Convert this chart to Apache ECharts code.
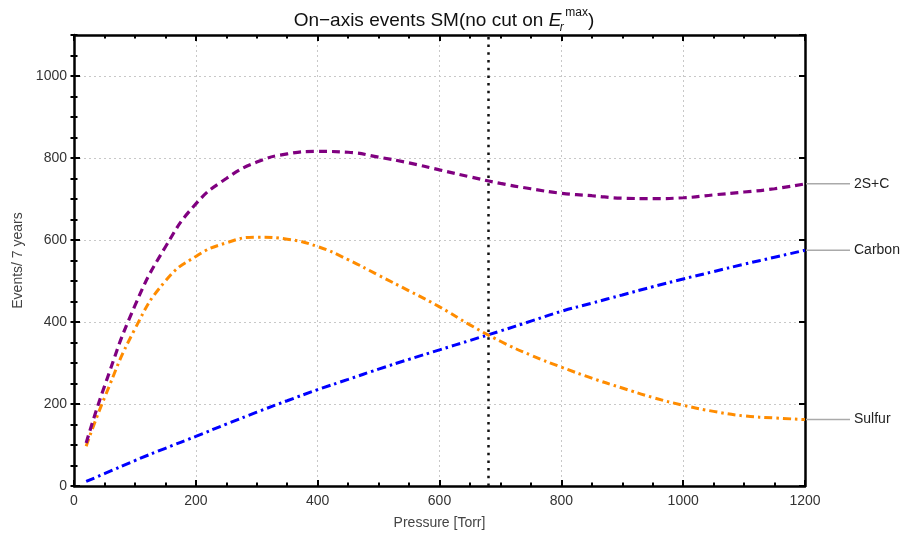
<!DOCTYPE html>
<html>
<head>
<meta charset="utf-8">
<script src="https://cdn.jsdelivr.net/npm/echarts@6/dist/echarts.min.js"></script>
<style>html,body{margin:0;padding:0;background:#fff}#c{width:906px;height:536px}</style>
</head>
<body>
<div id="c"></div>
<script>
const pressure = [20, 50, 100, 150, 200, 250, 300, 350, 400, 450, 500, 550, 600, 650, 700, 750, 800, 850, 900, 950, 1000, 1050, 1100, 1150, 1200];
const total2SC = [105, 243, 440, 583, 688, 750, 790, 810, 816, 814, 802, 788, 771, 754, 738, 725, 714, 708, 702, 701, 703, 710, 717, 725, 737];
const carbon = [11, 30, 62, 92, 121, 151, 180, 208, 235, 260, 285, 309, 332, 355, 378, 402, 426, 446, 466, 486, 505, 523, 541, 558, 575];
const sulfur = [97, 215, 383, 500, 560, 593, 607, 602, 584, 552, 514, 476, 437, 393, 353, 319, 290, 263, 239, 216, 197, 182, 171, 166, 162];
const cutPressure = 680;
const xTicks = [0, 200, 400, 600, 800, 1000, 1200];
const yTicks = [0, 200, 400, 600, 800, 1000];

const FONT = "'Liberation Sans', Arial, sans-serif";
const pairs = arr => pressure.map((p, i) => [p, arr[i]]);

function endLabel() {
  return {
    show: true,
    distance: 1,
    formatter: p => '{l|}{t|' + p.seriesName + '}',
    rich: {
      l: { width: 44, height: 1.5, backgroundColor: '#aaaaaa' },
      t: { fontFamily: FONT, fontSize: 14, color: '#222', padding: [0, 0, 0, 4] }
    }
  };
}

const chart = echarts.init(document.getElementById('c'), null, { renderer: 'canvas' });
const frameLine = { show: true, onZero: false, lineStyle: { color: '#000', width: 2.5 } };
chart.setOption({
  animation: false,
  title: {
    text: 'On\u2212axis events SM(no cut on {e|E}{r|r}{m|max})',
    left: 439, top: 2, textAlign: 'center',
    textStyle: {
      fontFamily: FONT, fontSize: 19, fontWeight: 'normal', color: '#111',
      rich: {
        e: { fontFamily: FONT, fontSize: 19, fontStyle: 'italic', color: '#111' },
        r: { fontFamily: FONT, fontSize: 12, fontStyle: 'italic', color: '#111', width: 1, verticalAlign: 'bottom', padding: [15, 0, 0, 0] },
        m: { fontFamily: FONT, fontSize: 12, color: '#111', verticalAlign: 'top', padding: [0, 0, 14, 3] }
      }
    }
  },
  grid: { left: 74, right: 101, top: 35, bottom: 50, containLabel: false },
  xAxis: [
    {
      type: 'value', min: 0, max: 1200, interval: 200, position: 'bottom',
      name: 'Pressure [Torr]', nameLocation: 'middle', nameGap: 30,
      nameTextStyle: { fontFamily: FONT, fontSize: 14, color: '#444' },
      axisLine: frameLine,
      axisTick: { show: true, inside: true, length: 6, lineStyle: { color: '#000', width: 2 } },
      minorTick: { show: true, splitNumber: 4, length: 3.5, lineStyle: { color: '#000', width: 2 } },
      axisLabel: { fontFamily: FONT, fontSize: 14, color: '#333', margin: 8, formatter: v => xTicks.includes(v) ? String(v) : '' },
      splitLine: { show: true, lineStyle: { color: '#c8c8c8', type: [2, 3], width: 1 } }
    },
    {
      type: 'value', min: 0, max: 1200, interval: 200, position: 'top',
      axisLine: frameLine,
      axisTick: { show: true, inside: true, length: 6, lineStyle: { color: '#000', width: 2 } },
      minorTick: { show: true, splitNumber: 4, length: 3.5, lineStyle: { color: '#000', width: 2 } },
      axisLabel: { show: false }, splitLine: { show: false }
    }
  ],
  yAxis: [
    {
      type: 'value', min: 0, max: 1100, interval: 200, position: 'left',
      name: 'Events/ 7 years', nameLocation: 'middle', nameGap: 46, nameRotate: 90,
      nameTextStyle: { fontFamily: FONT, fontSize: 14, color: '#444' },
      axisLine: frameLine,
      axisTick: { show: true, inside: true, length: 6, lineStyle: { color: '#000', width: 2 } },
      axisLabel: { fontFamily: FONT, fontSize: 14, color: '#333', margin: 7, showMaxLabel: false, formatter: v => yTicks.includes(v) ? String(v) : '' },
      splitLine: { show: true, lineStyle: { color: '#c8c8c8', type: [2, 3], width: 1 } }
    },
    {
      type: 'value', min: 0, max: 1100, interval: 50, position: 'left',
      axisLine: { show: false },
      axisTick: { show: true, inside: true, length: 3.5, lineStyle: { color: '#000', width: 2 } },
      axisLabel: { show: false }, splitLine: { show: false }
    },
    {
      type: 'value', min: 0, max: 1100, interval: 200, position: 'right',
      axisLine: frameLine,
      axisTick: { show: true, inside: true, length: 6, lineStyle: { color: '#000', width: 2 } },
      axisLabel: { show: false }, splitLine: { show: false }
    },
    {
      type: 'value', min: 0, max: 1100, interval: 50, position: 'right',
      axisLine: { show: false },
      axisTick: { show: true, inside: true, length: 3.5, lineStyle: { color: '#000', width: 2 } },
      axisLabel: { show: false }, splitLine: { show: false }
    }
  ],
  series: [
    {
      name: 'Carbon', type: 'line', data: pairs(carbon), smooth: 0.5, showSymbol: false,
      lineStyle: { color: '#0000ff', width: 3, type: [9, 4, 2.5, 4] },
      itemStyle: { color: '#0000ff' },
      endLabel: endLabel(),
      markLine: {
        silent: true, symbol: 'none', label: { show: false },
        lineStyle: { color: '#111', width: 2.5, type: [2.5, 5.2] },
        data: [{ xAxis: cutPressure }]
      }
    },
    {
      name: 'Sulfur', type: 'line', data: pairs(sulfur), smooth: 0.5, showSymbol: false,
      lineStyle: { color: '#ff8c00', width: 3, type: [8, 4, 2.5, 4] },
      itemStyle: { color: '#ff8c00' },
      endLabel: endLabel()
    },
    {
      name: '2S+C', type: 'line', data: pairs(total2SC), smooth: 0.5, showSymbol: false,
      lineStyle: { color: '#800080', width: 3.2, type: [8, 5] },
      itemStyle: { color: '#800080' },
      endLabel: endLabel()
    }
  ]
});
</script>
</body>
</html>
